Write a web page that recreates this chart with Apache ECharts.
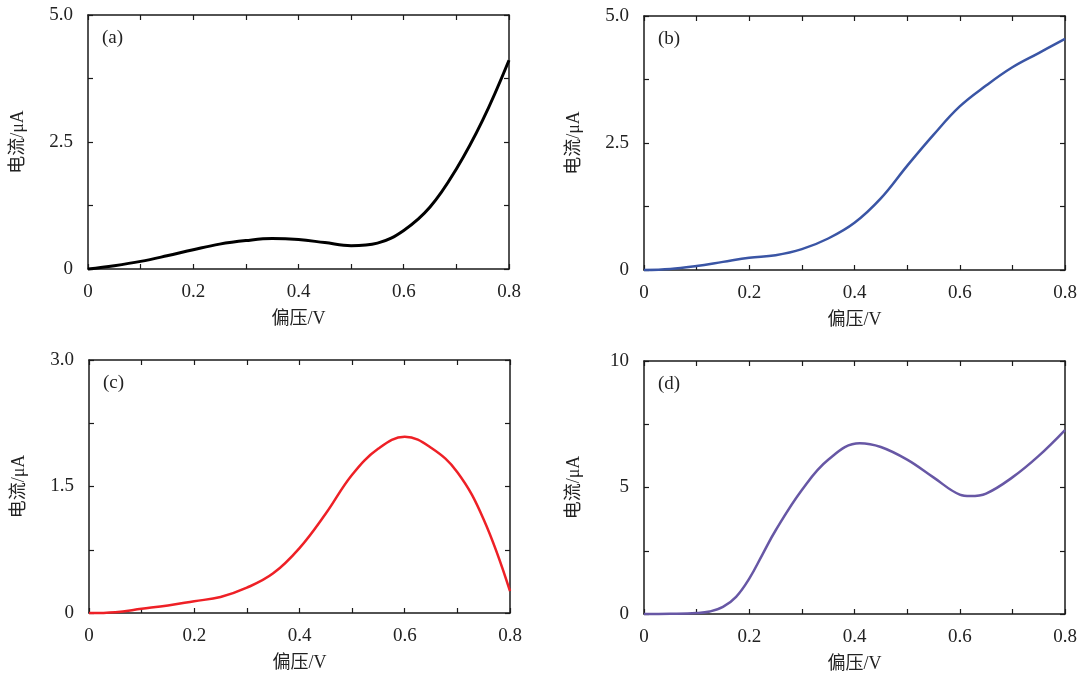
<!DOCTYPE html>
<html>
	<head>
		<meta charset="UTF-8">
		<title></title>
		<script src="https://cdn.jsdelivr.net/npm/echarts@6/dist/echarts.min.js" type="text/javascript" charset="utf-8"></script>
	</head>
	<body style="margin: 0;">
		<div id="chart" style="width: 1090px;height: 675px;"></div>
		<script type="text/javascript">
			// 偏压 (V)
			var biasV = [0, 0.05, 0.1, 0.15, 0.2, 0.25, 0.3, 0.35, 0.4, 0.45, 0.5, 0.55, 0.6, 0.65, 0.7, 0.75, 0.8];
			var biasVd = [0, 0.05, 0.1, 0.125, 0.15, 0.175, 0.2, 0.225, 0.25, 0.3, 0.35, 0.41, 0.45, 0.5, 0.55, 0.6, 0.62, 0.65, 0.7, 0.75, 0.8];
			// 电流 (μA)
			var currentA = [0, 0.066, 0.15, 0.26, 0.38, 0.49, 0.56, 0.60, 0.58, 0.52, 0.46, 0.51, 0.76, 1.22, 1.97, 2.93, 4.11];
			var currentB = [0, 0.02, 0.08, 0.16, 0.24, 0.29, 0.41, 0.62, 0.93, 1.41, 2.05, 2.66, 3.22, 3.63, 3.99, 4.27, 4.55];
			var currentC = [0, 0.01, 0.05, 0.09, 0.14, 0.19, 0.30, 0.47, 0.77, 1.18, 1.64, 1.95, 2.09, 1.96, 1.67, 1.11, 0.26];
			var currentD = [0, 0.01, 0.04, 0.1, 0.28, 0.68, 1.4, 2.35, 3.3, 4.9, 6.1, 6.75, 6.6, 6.1, 5.4, 4.72, 4.66, 4.76, 5.4, 6.25, 7.27];
			// 刻度标签
			var xLabels = ['0', '0.2', '0.4', '0.6', '0.8'];

			var panels = [
				{tag: '(a)', x: biasV, y: currentA, color: '#000000', width: 3, yMax: 5, yStep: 2.5, yLabels: ['0', '2.5', '5.0'],
					left: 88, top: 15, w: 421, h: 254},
				{tag: '(b)', x: biasV, y: currentB, color: '#3a55a5', width: 2.5, yMax: 5, yStep: 2.5, yLabels: ['0', '2.5', '5.0'],
					left: 644, top: 16, w: 421, h: 254},
				{tag: '(c)', x: biasV, y: currentC, color: '#ee2026', width: 2.5, yMax: 3, yStep: 1.5, yLabels: ['0', '1.5', '3.0'],
					left: 89, top: 360, w: 421, h: 253},
				{tag: '(d)', x: biasVd, y: currentD, color: '#6757a5', width: 2.5, yMax: 10, yStep: 5, yLabels: ['0', '5', '10'],
					left: 644, top: 361, w: 421, h: 253}
			];

			var font = 'Liberation Serif, Noto Sans CJK SC, serif';
			var lineCol = '#1a1a1a';
			var tick = {show: true, inside: true, length: 5, lineStyle: {color: lineCol, width: 1.2}};

			var grid = [], xAxis = [], yAxis = [], series = [], title = [];
			panels.forEach((p, i) => {
				grid.push({left: p.left, top: p.top, width: p.w, height: p.h});
				title.push({
					text: p.tag, left: p.left + 9, top: p.top + 9,
					textStyle: {fontFamily: font, fontSize: 19, fontWeight: 'normal', color: '#222'}
				});
				// 每 0.1 一个刻度，标签只在 0.2 的倍数上
				xAxis.push({
					type: 'value', gridIndex: i, min: 0, max: 0.8, interval: 0.1,
					name: '偏压/V', nameLocation: 'middle', nameGap: 41,
					nameTextStyle: {fontFamily: font, fontSize: 18, color: '#222'},
					axisLine: {show: true, onZero: false, lineStyle: {color: lineCol, width: 1.5}},
					axisTick: tick,
					axisLabel: {fontFamily: font, fontSize: 19, color: '#222', margin: 14,
						formatter: v => {
							var k = Math.round(v * 10);
							return k % 2 === 0 ? xLabels[k / 2] : '';
						}},
					splitLine: {show: false}
				});
				xAxis.push({
					type: 'value', gridIndex: i, min: 0, max: 0.8, interval: 0.1, position: 'top',
					axisLine: {show: true, onZero: false, lineStyle: {color: lineCol, width: 1.5}},
					axisTick: tick, axisLabel: {show: false}, splitLine: {show: false}
				});
				yAxis.push({
					type: 'value', gridIndex: i, min: 0, max: p.yMax, interval: p.yStep / 2,
					name: '电流/μA', nameLocation: 'middle', nameGap: 61,
					nameTextStyle: {fontFamily: font, fontSize: 18, color: '#222'},
					axisLine: {show: true, onZero: false, lineStyle: {color: lineCol, width: 1.5}},
					axisTick: tick,
					axisLabel: {fontFamily: font, fontSize: 19, color: '#222', margin: 15,
						formatter: v => {
							var k = Math.round(v / (p.yStep / 2));
							return k % 2 === 0 ? p.yLabels[k / 2] : '';
						}},
					splitLine: {show: false}
				});
				yAxis.push({
					type: 'value', gridIndex: i, min: 0, max: p.yMax, interval: p.yStep / 2, position: 'right',
					axisLine: {show: true, onZero: false, lineStyle: {color: lineCol, width: 1.5}},
					axisTick: tick, axisLabel: {show: false}, splitLine: {show: false}
				});
				series.push({
					type: 'line', xAxisIndex: i * 2, yAxisIndex: i * 2,
					data: p.x.map((v, j) => [v, p.y[j]]),
					smooth: 0.4, symbol: 'none', clip: false,
					lineStyle: {color: p.color, width: p.width}
				});
			});

			var chart = echarts.init(document.getElementById('chart'));
			var option = {
				backgroundColor: '#ffffff',
				animation: false,
				title: title,
				grid: grid,
				xAxis: xAxis,
				yAxis: yAxis,
				series: series
			};
			chart.setOption(option, true);
		</script>
	</body>
</html>
